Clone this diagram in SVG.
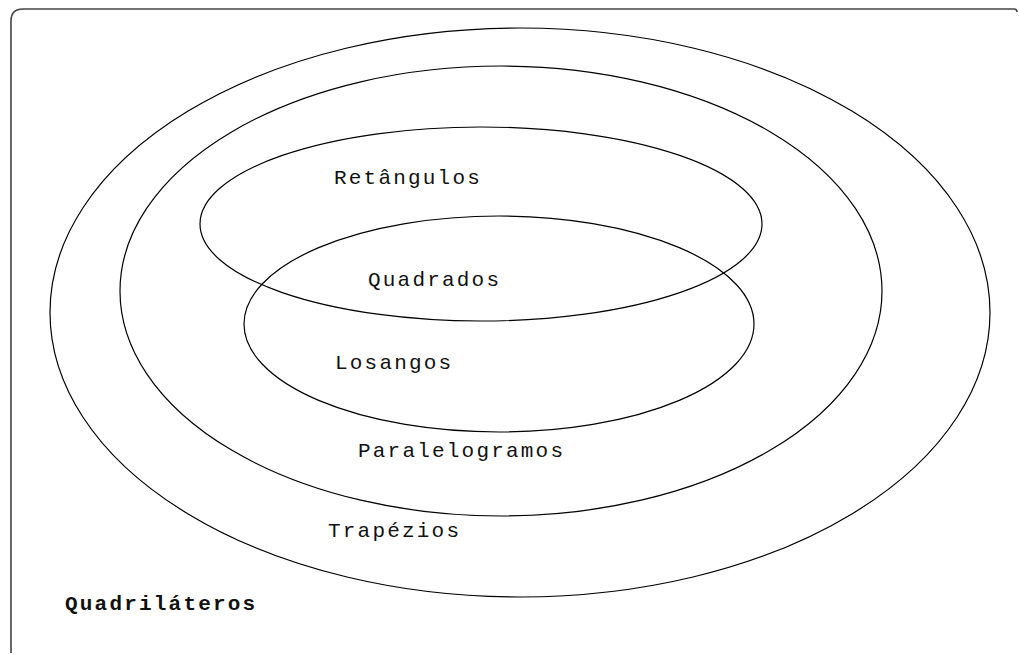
<svg xmlns="http://www.w3.org/2000/svg" width="1019" height="655" viewBox="0 0 1019 655">
<style>
.e{fill:none;stroke:#000;stroke-width:1.2}
.t{font-family:"Liberation Mono","Courier New",monospace;font-size:21px;letter-spacing:2.2px;fill:#111}
.b{font-weight:bold}
</style>
<rect width="1019" height="655" fill="#fff"/>
<path d="M11,653 V21 Q11,9 23,9 H1014 Q1017,9 1017,12" fill="none" stroke="#444" stroke-width="1.6"/>
<g id="trapezios"><ellipse class="e" cx="520" cy="312.5" rx="470" ry="284.5"/><text class="t" x="328" y="537">Trapézios</text></g>
<g id="paralelogramos"><ellipse class="e" cx="501" cy="291" rx="381" ry="225"/><text class="t" x="358" y="457">Paralelogramos</text></g>
<g id="retangulos"><ellipse class="e" cx="481" cy="224" rx="281" ry="97"/><text class="t" x="334" y="184">Retângulos</text></g>
<g id="losangos"><ellipse class="e" cx="499" cy="324" rx="255" ry="108"/><text class="t" x="335" y="369">Losangos</text></g>
<g id="quadrados"><text class="t" x="368" y="286">Quadrados</text></g>
<g id="quadrilateros"><text class="t b" x="65" y="610">Quadriláteros</text></g>
<g id="connectors"/>
</svg>
